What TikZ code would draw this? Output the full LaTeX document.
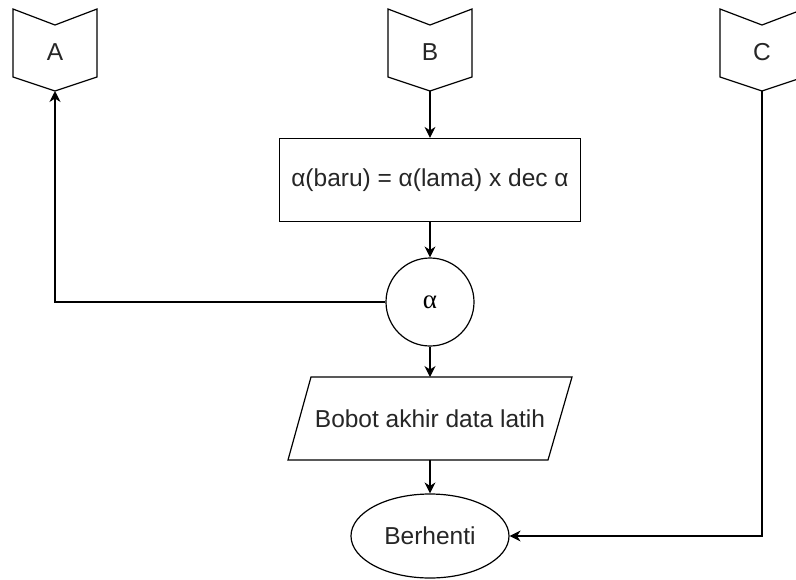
\documentclass[tikz,border=0pt]{standalone}
\usepackage{fontspec}
\setmainfont{Liberation Sans}
\newfontfamily\serifgreek{Liberation Serif}
\usetikzlibrary{arrows.meta,shapes.geometric}
\begin{document}
\begin{tikzpicture}[x=1pt,y=-1pt,line width=1.2pt,
  lbl/.style={font=\fontsize{24.5}{28}\selectfont,text=black!85},
  flow/.style={draw,-{Stealth[length=11pt,width=11pt,inset=3.5pt]}}]
\useasboundingbox (0,0) rectangle (796,579);
\fill[white] (0,0) rectangle (796,579);

% off-page connectors
\foreach \n/\cx in {A/55,B/430,C/762}{
  \draw[line join=miter] (\cx-42,9) -- (\cx,25) -- (\cx+42,9) -- (\cx+42,77)
        -- (\cx,91) -- (\cx-42,77) -- cycle;
  \node[lbl] (\n) at (\cx,52) {\n};
  \coordinate (\n tip) at (\cx,91);
}

% process box
\node[draw,lbl,minimum width=301pt,minimum height=83pt,inner sep=0pt] (upd)
  at (430,180) {α(baru) = α(lama) x dec α};

% connector circle
\node[draw,circle,minimum size=88pt,inner sep=0pt,
  font=\serifgreek\fontsize{27}{30}\selectfont] (alpha) at (430,302) {α};

% output parallelogram
\draw[line join=miter] (311,377) -- (572,377) -- (548,460) -- (288,460) -- cycle;
\node[lbl] (out) at (430,418.5) {Bobot akhir data latih};
\coordinate (outtop) at (430,377);
\coordinate (outbot) at (430,460);

% terminator
\node[draw,ellipse,minimum width=158pt,minimum height=84pt,inner sep=0pt,lbl]
  (stop) at (430,536) {Berhenti};

% connectors
\draw[flow] (Btip) -- (upd.north);
\draw[flow] (upd.south) -- (alpha.north);
\draw[flow] (alpha.south) -- (outtop);
\draw[flow] (outbot) -- (stop.north);
\draw[flow] (alpha.west) -| (Atip);
\draw[flow] (Ctip) |- (stop.east);
\end{tikzpicture}
\end{document}
